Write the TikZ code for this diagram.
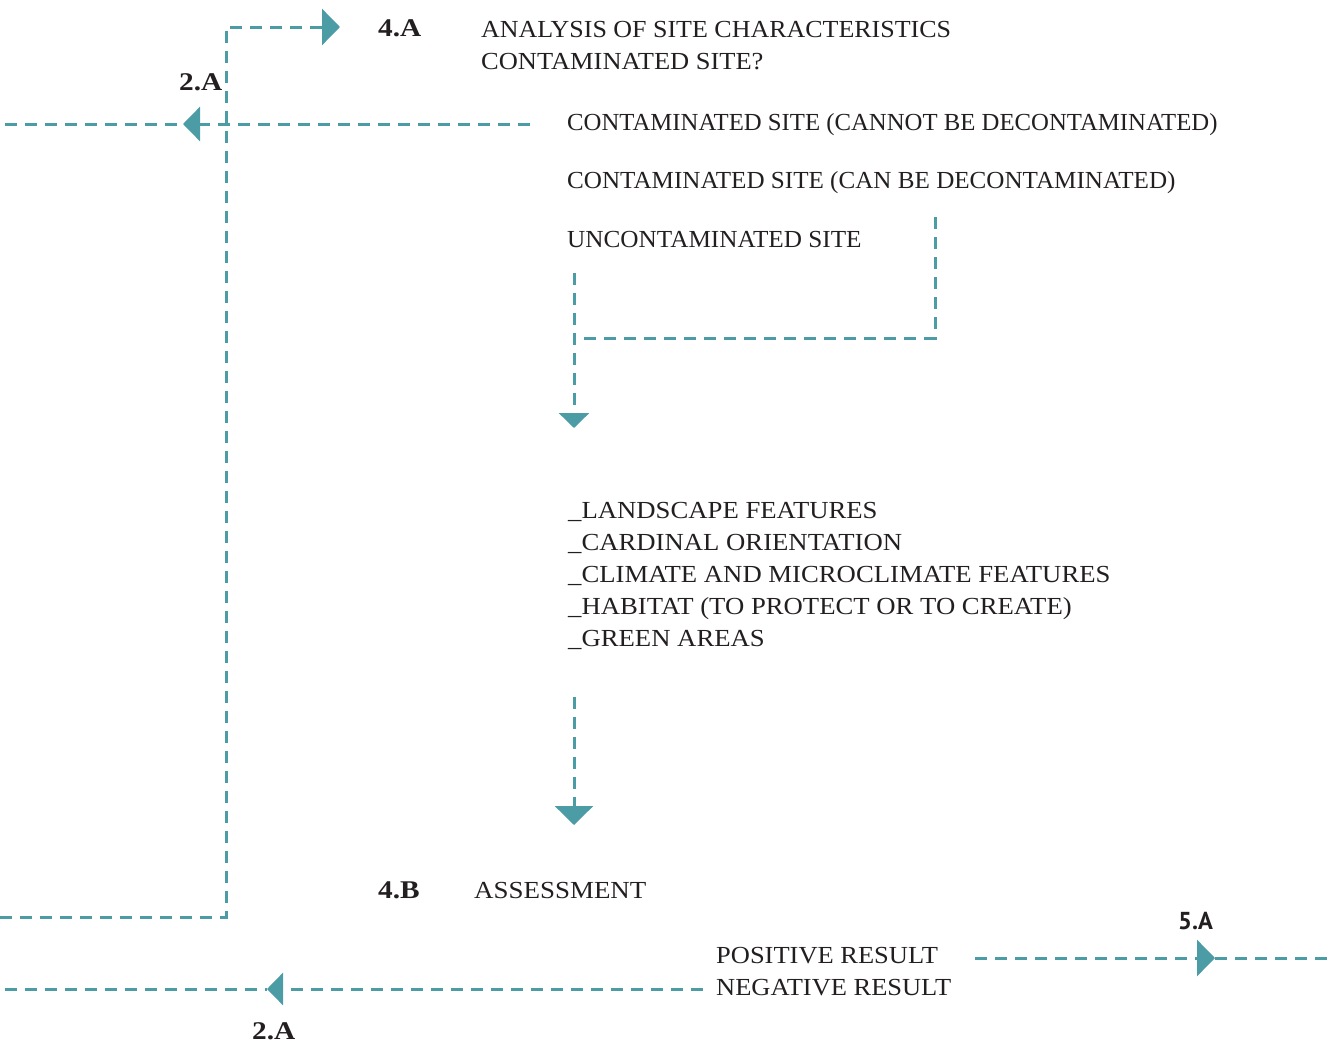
\documentclass[tikz,border=0pt]{standalone}
\usepackage{fontspec}
\setmainfont{Liberation Serif}
\newfontfamily\narrowserif{Liberation Serif}[FakeStretch=1.01]
\newfontfamily\wideserif{Liberation Serif}[FakeStretch=1.09]
\newfontfamily\tagserif{Liberation Serif}[FakeStretch=1.15]
\newfontfamily\stepsans{PT Sans}
\usetikzlibrary{arrows.meta}
\definecolor{flowteal}{HTML}{4C9CA6}
\definecolor{ink}{HTML}{231F20}
\begin{document}
\begin{tikzpicture}[x=1pt,y=-1pt,
  flow/.style={draw=flowteal, line width=3pt, dash pattern=on 12pt off 8pt},
  head/.style={-{Triangle[length=#1, width=2*#1, fill=flowteal]}},
  head/.default=18pt,
  txt/.style={anchor=base west, inner sep=0pt, text=ink,
    font=\fontsize{24.5}{32}\wideserif},
  ntxt/.style={txt, font=\fontsize{24.5}{32}\narrowserif},
  tag/.style={anchor=base west, inner sep=0pt, text=ink,
    font=\fontsize{25.5}{32}\tagserif\bfseries},
  sidetag/.style={anchor=base west, inner sep=0pt, text=ink,
    font=\fontsize{24.5}{32}\stepsans\bfseries}]
\useasboundingbox (0,0) rectangle (1327,1044);

% step 4.A: site analysis
\node[tag] (t4a) at (378,36) {4.A};
\node[ntxt, font=\fontsize{24.5}{32}\addfontfeature{FakeStretch=1.06}] (title) at (481,37) {ANALYSIS OF SITE CHARACTERISTICS};
\node[txt, font=\fontsize{24.5}{32}\addfontfeature{FakeStretch=1.08}] (question) at (481,69) {CONTAMINATED SITE?};
\node[ntxt] (cannot) at (567,130) {CONTAMINATED SITE (CANNOT BE DECONTAMINATED)};
\node[ntxt, font=\fontsize{24.5}{32}\addfontfeature{FakeStretch=1.025}] (can) at (567,188) {CONTAMINATED SITE (CAN BE DECONTAMINATED)};
\node[ntxt, font=\fontsize{24.5}{32}\addfontfeature{FakeStretch=1.03}] (clean) at (567,247) {UNCONTAMINATED SITE};

\node[tag] (t2a-top) at (179,90) {2.A};

% feature list
\node[txt, align=left, anchor=north west] (features) at (568,502)
  {\_LANDSCAPE FEATURES\\
   \_CARDINAL ORIENTATION\\
   \_CLIMATE AND MICROCLIMATE FEATURES\\
   \_HABITAT (TO PROTECT OR TO CREATE)\\
   \_GREEN AREAS};

% step 4.B: assessment
\node[tag] (t4b) at (378,898) {4.B};
\node[txt, font=\fontsize{24.5}{32}\addfontfeature{FakeStretch=1.1}] (assess) at (474,898) {ASSESSMENT};
\node[txt, font=\fontsize{24.5}{32}\addfontfeature{FakeStretch=1.08}] (pos) at (716,963) {POSITIVE RESULT};
\node[txt, font=\fontsize{24.5}{32}\addfontfeature{FakeStretch=1.08}] (neg) at (716,995) {NEGATIVE RESULT};
\node[sidetag] (t5a) at (1178,929) {5.A};
\node[tag] (t2a-bot) at (252,1039) {2.A};

% routing points
\coordinate (loop-left) at (0,917);
\coordinate (loop-corner) at (226,917);
\coordinate (loop-top) at (226,27);
\coordinate (tip-4a) at (340,27);

\coordinate (cannot-start) at (530,124);
\coordinate (tip-2a-top) at (183,124);
\coordinate (cannot-end) at (5,124);

\coordinate (can-start) at (935,217);
\coordinate (can-corner) at (935,338);
\coordinate (merge) at (574,338);
\coordinate (clean-start) at (574,273);
\coordinate (tip-features) at (574,428);

\coordinate (features-start) at (574,697);
\coordinate (tip-assess) at (574,825);

\coordinate (pos-start) at (975,958);
\coordinate (tip-5a) at (1215,958);
\coordinate (pos-end) at (1327,958);

\coordinate (neg-start) at (703,989);
\coordinate (tip-2a-bot) at (267,989);
\coordinate (neg-end) at (5,989);

% connectors
\draw[flow, head=18pt] (loop-left) -- (loop-corner) -- (loop-top) -- (tip-4a);

\draw[flow, head=17pt] (cannot-start) -- (tip-2a-top);
\draw[flow] (cannot-end) -- (tip-2a-top);

\draw[flow] (can-start) -- (can-corner) -- (merge);
\draw[flow, head=15pt] (clean-start) -- (tip-features);

\draw[flow, head=19pt] (features-start) -- (tip-assess);

\draw[flow, head=18pt] (pos-start) -- (tip-5a);
\draw[flow] (tip-5a) -- (pos-end);

\draw[flow, head=16pt] (neg-start) -- (tip-2a-bot);
\draw[flow] (neg-end) -- (tip-2a-bot);
\end{tikzpicture}
\end{document}
